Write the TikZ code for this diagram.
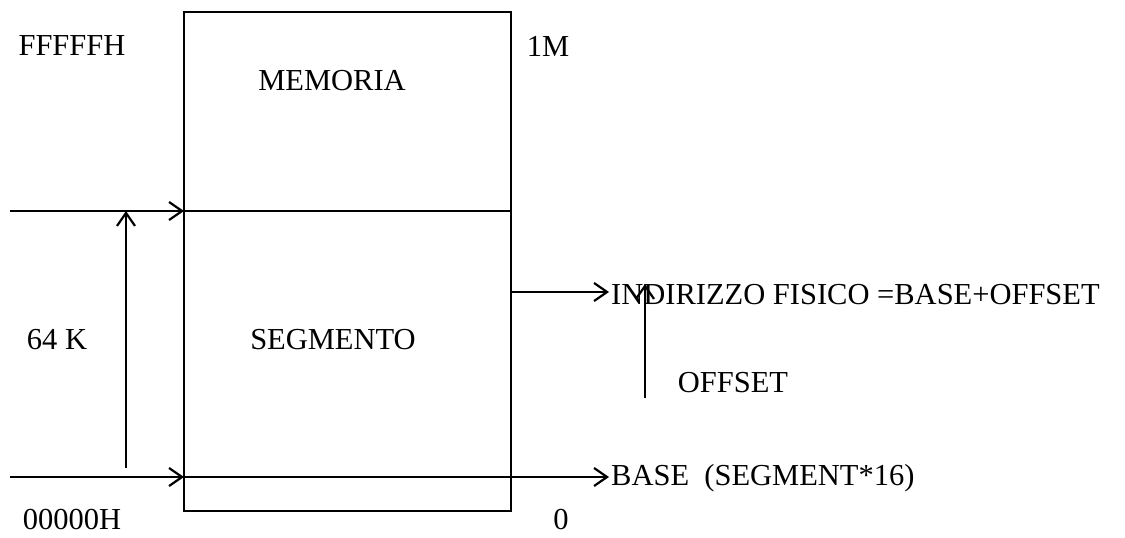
\documentclass[tikz,border=0pt]{standalone}
\usepackage{fontspec}
\setmainfont{Liberation Serif}
\usetikzlibrary{arrows.meta}
\begin{document}
\begin{tikzpicture}[x=1pt,y=-1pt,
  ln/.style={line width=2pt},
  arr/.style={ln,-{Straight Barb[length=13pt,width=18pt,line width=2.2pt]}},
  lbl/.style={font=\fontsize{30.5}{33}\selectfont, inner sep=0pt},
  lbll/.style={lbl, anchor=west}]
\useasboundingbox (0,0) rectangle (1125,538);
\node[draw, ln, minimum width=327pt, minimum height=499pt, inner sep=0pt] (box) at (347.5,261.5) {};
\coordinate (tl) at (184,211); \coordinate (tr) at (511,211);
\coordinate (bl) at (184,477); \coordinate (br) at (511,477);
\draw[ln] (tl) -- (tr);
\draw[ln] (bl) -- (br);
\coordinate (a1) at (10,211);
\coordinate (a2) at (10,477);
\draw[arr] (a1) -- (tl);
\draw[arr] (a2) -- (bl);
\coordinate (v1) at (126,468);
\coordinate (v2) at (126,211);
\draw[arr] (v1) -- (v2);
\node[lbl] (fff) at (72,46) {FFFFFH};
\node[lbl] (one) at (548,46) {1M};
\node[lbl] (mem) at (332,81) {MEMORIA};
\node[lbl] (seg) at (333,340) {SEGMENTO};
\node[lbl] (k64) at (57,340) {64 K};
\node[lbl] (zz) at (72,520) {00000H};
\node[lbl] (zero) at (561,520) {0};
\node[lbll] (ind) at (611,295) {INDIRIZZO FISICO =BASE+OFFSET};
\node[lbll] (base) at (611,478) {BASE\ \ (SEGMENT*16)};
\node[lbl] (off) at (733,383) {OFFSET};
\coordinate (r1) at (511,292);
\coordinate (r2) at (511,477);
\coordinate (r1e) at (609,292);
\coordinate (r2e) at (609,477);
\draw[arr] (r1) -- (r1e);
\draw[arr] (r2) -- (r2e);
\coordinate (o1) at (645,398);
\coordinate (o2) at (645,284);
\draw[arr] (o1) -- (o2);
\end{tikzpicture}
\end{document}
